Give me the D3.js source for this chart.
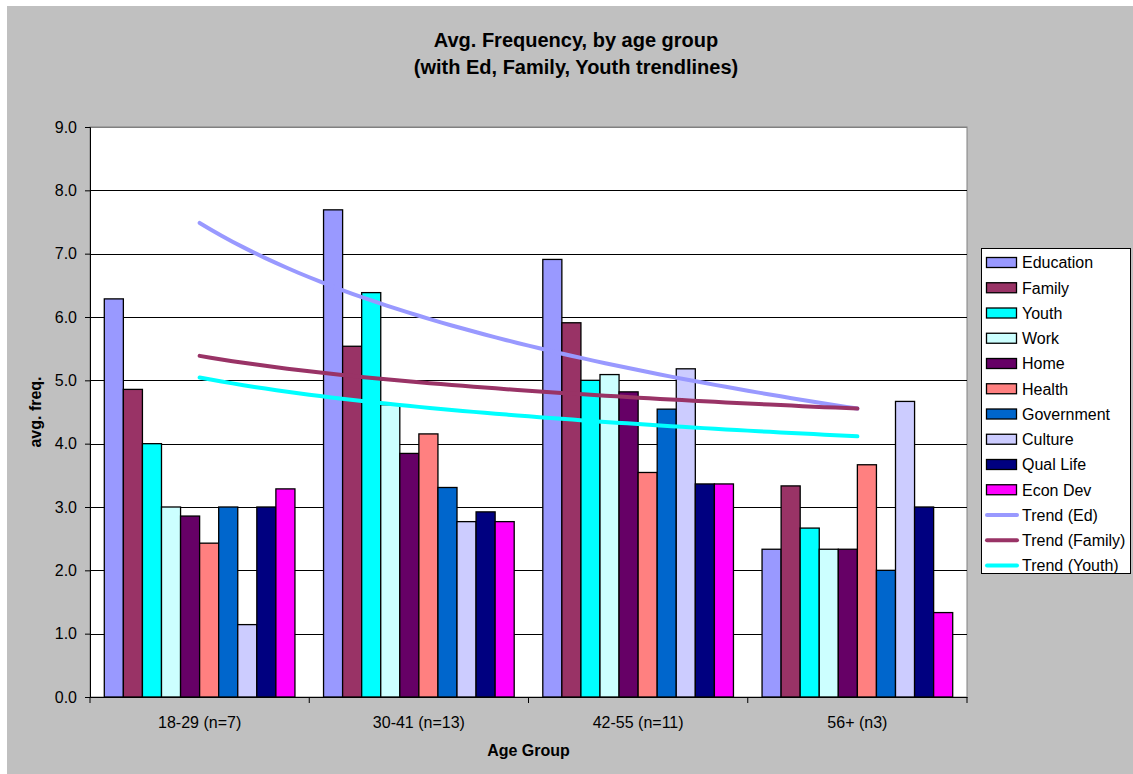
<!DOCTYPE html>
<html><head><meta charset="utf-8">
<script src="https://cdn.jsdelivr.net/npm/d3@7"></script>
<style>body{margin:0;background:#fff}svg{display:block}text{font-family:Arial,"Liberation Sans",sans-serif}</style>
</head><body><svg id="c" width="1133" height="774"></svg>
<script>
const categories = ["18-29 (n=7)", "30-41 (n=13)", "42-55 (n=11)", "56+ (n3)"];
const seriesNames = ["Education","Family","Youth","Work","Home","Health","Government","Culture","Qual Life","Econ Dev"];
const education  = [6.286, 7.692, 6.909, 2.333];
const family     = [4.857, 5.538, 5.909, 3.333];
const youth      = [4.0,   6.385, 5.0,   2.667];
const work       = [3.0,   4.615, 5.091, 2.333];
const home       = [2.857, 3.846, 4.818, 2.333];
const health     = [2.429, 4.154, 3.545, 3.667];
const government = [3.0,   3.308, 4.545, 2.0];
const culture    = [1.143, 2.769, 5.182, 4.667];
const qualLife   = [3.0,   2.923, 3.364, 3.0];
const econDev    = [3.286, 2.769, 3.364, 1.333];
const seriesColors = ["#9999FF","#993366","#00FFFF","#CCFFFF","#660066","#FF8080","#0066CC","#CCCCFF","#000080","#FF00FF"];
const trendNames = ["Trend (Ed)","Trend (Family)","Trend (Youth)"];
const trendColors = ["#9999FF","#993366","#00FFFF"];
const yTicks = [0,1,2,3,4,5,6,7,8,9];

const seriesValues = [education,family,youth,work,home,health,government,culture,qualLife,econDev];
const trendSource = [education,family,youth];

const svg = d3.select("#c");
svg.append("rect").attr("x",7).attr("y",6).attr("width",1126).attr("height",768).attr("fill","#C0C0C0");

const L=90,R=967,T=127,B=697;
const y = d3.scaleLinear().domain([0,9]).range([B,T]);
const x0 = d3.scaleBand().domain(categories).range([L,R]).paddingInner(0).paddingOuter(0);
const x1 = d3.scaleBand().domain(seriesNames).range([0,x0.bandwidth()]).paddingInner(0).paddingOuter(0.75);

svg.append("rect").attr("x",L).attr("y",T).attr("width",R-L).attr("height",B-T).attr("fill","#fff").attr("stroke","#808080").attr("stroke-width",1);

// gridlines
svg.append("g").selectAll("line").data(yTicks.filter(d=>d>0)).join("line")
  .attr("x1",L).attr("x2",R).attr("y1",d=>Math.round(y(d))+0.5).attr("y2",d=>Math.round(y(d))+0.5)
  .attr("stroke",d=>d===9?"#808080":"#000").attr("stroke-width",1);

// bars
const g = svg.append("g");
seriesNames.forEach((s,i)=>{
  g.selectAll(null).data(seriesValues[i].map((v,j)=>({v,c:categories[j]}))).join("rect")
    .attr("x",d=>x0(d.c)+x1(s)).attr("width",x1.bandwidth())
    .attr("y",d=>y(d.v)).attr("height",d=>y(0)-y(d.v))
    .attr("fill",seriesColors[i]).attr("stroke","#000").attr("stroke-width",1.3);
});

// axes
const ya = svg.append("g").attr("transform",`translate(${L},0)`)
  .call(d3.axisLeft(y).tickValues(yTicks).tickFormat(d3.format(".1f")).tickSize(5).tickPadding(8));
ya.select(".domain").attr("stroke","#000");
ya.selectAll("text").attr("font-size",16).attr("fill","#000").attr("font-family","Arial,'Liberation Sans',sans-serif");

const xa = svg.append("g").attr("transform",`translate(0,${B})`)
  .call(d3.axisBottom(x0).tickSize(0).tickPadding(20));
xa.select(".domain").attr("stroke","#000");
xa.selectAll("text").attr("font-size",16).attr("fill","#000").attr("font-family","Arial,'Liberation Sans',sans-serif");
// category boundary ticks
xa.append("g").selectAll("line").data(categories.concat(["end"])).join("line")
  .attr("x1",(d,i)=>i<categories.length?x0(d):R).attr("x2",(d,i)=>i<categories.length?x0(d):R)
  .attr("y1",0).attr("y2",6).attr("stroke","#000");

// trendlines (logarithmic least-squares fits, as Excel draws)
const xi = d3.scaleLinear().domain([1,categories.length]).range([x0(categories[0])+x0.bandwidth()/2, x0(categories[categories.length-1])+x0.bandwidth()/2]);
function logFit(vals){
  const xs = vals.map((v,i)=>Math.log(i+1));
  const mx = d3.mean(xs), my = d3.mean(vals);
  let sxy=0,sxx=0; xs.forEach((xv,i)=>{sxy+=(xv-mx)*(vals[i]-my);sxx+=(xv-mx)*(xv-mx);});
  const b=sxy/sxx, a=my-b*mx; return t=>a+b*Math.log(t);
}
const line = d3.line().x(d=>xi(d[0])).y(d=>y(d[1])).curve(d3.curveLinear);
trendSource.forEach((vals,i)=>{
  const f = logFit(vals);
  const pts = d3.range(1,categories.length+0.001,0.05).map(t=>[t,f(t)]);
  svg.append("path").attr("d",line(pts)).attr("fill","none").attr("stroke",trendColors[i])
    .attr("stroke-width",4).attr("stroke-linecap","round");
});

// titles
svg.append("text").attr("x",576).attr("y",47).attr("text-anchor","middle").attr("font-size",20).attr("font-weight","bold").text("Avg. Frequency, by age group");
svg.append("text").attr("x",576).attr("y",74).attr("text-anchor","middle").attr("font-size",20).attr("font-weight","bold").text("(with Ed, Family, Youth trendlines)");
svg.append("text").attr("x",(L+R)/2).attr("y",756).attr("text-anchor","middle").attr("font-size",16).attr("font-weight","bold").text("Age Group");
svg.append("text").attr("transform",`translate(41,${(T+B)/2}) rotate(-90)`).attr("text-anchor","middle").attr("font-size",16).attr("font-weight","bold").text("avg. freq.");

// legend
const lg = svg.append("g");
lg.append("rect").attr("x",981.5).attr("y",248.5).attr("width",149).attr("height",325).attr("fill","#fff").attr("stroke","#000");
const rowY = i=>262.5+i*25.25;
seriesNames.forEach((s,i)=>{
  lg.append("rect").attr("x",986.5).attr("y",rowY(i)-5).attr("width",30).attr("height",10).attr("fill",seriesColors[i]).attr("stroke","#000").attr("stroke-width",1.3);
  lg.append("text").attr("x",1022).attr("y",rowY(i)).attr("dy","0.36em").attr("font-size",16).text(s);
});
trendNames.forEach((s,k)=>{
  const i=seriesNames.length+k;
  lg.append("line").attr("x1",987).attr("x2",1017).attr("y1",rowY(i)).attr("y2",rowY(i)).attr("stroke",trendColors[k]).attr("stroke-width",4).attr("stroke-linecap","round");
  lg.append("text").attr("x",1022).attr("y",rowY(i)).attr("dy","0.36em").attr("font-size",16).text(s);
});
</script></body></html>
